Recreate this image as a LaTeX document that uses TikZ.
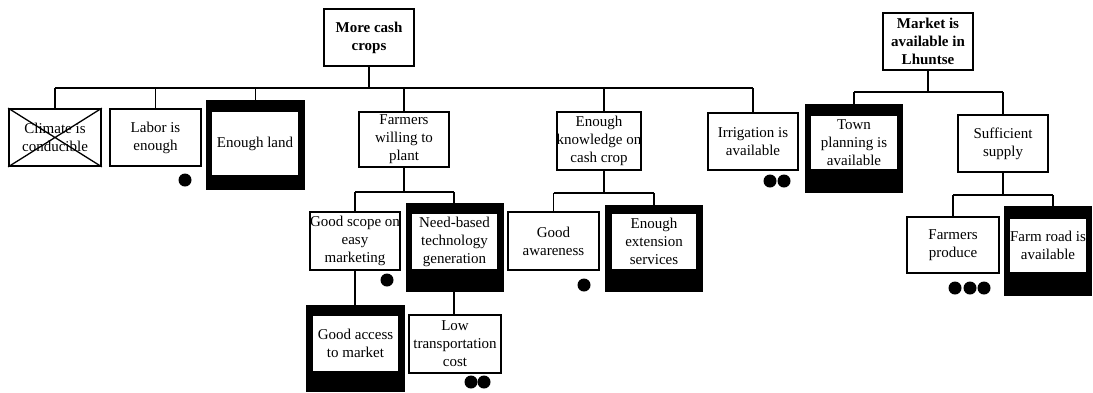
\documentclass[tikz,border=0pt]{standalone}
\usepackage{fontspec}
\setmainfont{Liberation Serif}
\begin{document}
\begin{tikzpicture}[x=1pt,y=-1pt,
  box/.style={draw=black, line width=1.7pt, fill=white, align=center, inner sep=0pt,
              font=\fontsize{15}{18}\selectfont},
  rootbox/.style={box, font=\fontsize{15}{18}\selectfont\bfseries},
  shade/.style={fill=black, draw=none, inner sep=0pt},
  badge/.style={circle, fill=black, inner sep=0pt, minimum size=13pt},
  link/.style={line width=1.7pt}]
\useasboundingbox (0,0) rectangle (1093,392);

% ---------- first tree: more cash crops ----------
\node[rootbox, minimum width=90pt, minimum height=57pt] (root1) at (369,37.5) {More cash\\crops};

\node[box, minimum width=92pt, minimum height=57pt] (climate) at (55,137.5) {Climate is\\conducible};
\draw[line width=1.3pt] (climate.north west) -- (climate.south east)
                        (climate.north east) -- (climate.south west);

\node[box, minimum width=91pt, minimum height=57pt] (labor) at (155.5,137.5) {Labor is\\enough};

\node[shade, minimum width=99pt, minimum height=90pt] (landbg) at (255.5,145) {};
\node[box, minimum width=88pt, minimum height=65pt] (land) at (255,143.5) {Enough land};

\node[box, minimum width=90pt, minimum height=55pt] (farmers) at (404,139.5) {Farmers\\willing to\\plant};

\node[box, minimum width=80pt, minimum height=58pt] (knowledge) at (599,141) {Enough\\knowledge on\\cash crop};

\node[box, minimum width=90pt, minimum height=57pt] (irrig) at (753,141.5) {Irrigation is\\available};

% second level under "Farmers willing to plant"
\node[box, minimum width=90pt, minimum height=58pt] (scope) at (355,241) {Good scope on\\easy\\marketing};

\node[shade, minimum width=98pt, minimum height=89pt] (needbg) at (455,247.5) {};
\node[box, minimum width=87pt, minimum height=57pt] (need) at (454.5,241.5) {Need-based\\technology\\generation};

% third level
\node[shade, minimum width=99pt, minimum height=87pt] (accessbg) at (355.5,348.5) {};
\node[box, minimum width=87pt, minimum height=57pt] (access) at (355.5,343.5) {Good access\\to market};

\node[box, minimum width=92pt, minimum height=58pt] (lowcost) at (455,344) {Low\\transportation\\cost};

% second level under "Enough knowledge on cash crop"
\node[box, minimum width=91pt, minimum height=58pt] (aware) at (553.5,241) {Good\\awareness};

\node[shade, minimum width=98pt, minimum height=87pt] (extbg) at (654,248.5) {};
\node[box, minimum width=86pt, minimum height=57pt] (ext) at (654,241.5) {Enough\\extension\\services};

% ---------- second tree: market in Lhuntse ----------
\node[rootbox, minimum width=90pt, minimum height=57pt] (root2) at (928,41.5) {Market is\\available in\\Lhuntse};

\node[shade, minimum width=98pt, minimum height=89pt] (townbg) at (854,148.5) {};
\node[box, minimum width=88pt, minimum height=55pt] (town) at (854,142.5) {Town\\planning is\\available};

\node[box, minimum width=90pt, minimum height=57pt] (supply) at (1003,143.5) {Sufficient\\supply};

\node[box, minimum width=92pt, minimum height=56pt] (produce) at (953,245) {Farmers\\produce};

\node[shade, minimum width=88pt, minimum height=90pt] (roadbg) at (1048,251) {};
\node[box, minimum width=78pt, minimum height=55pt] (road) at (1048,245.5) {Farm road is\\available};

% ---------- connectors ----------
\coordinate (bus1) at (369,88);
\draw[link] (root1.south) -- (bus1);
\draw[link] (climate.north |- bus1) -- (irrig.north |- bus1);
\foreach \n in {climate,labor,landbg,farmers,irrig}
  \draw[link] (\n.north) -- (\n.north |- bus1);
\draw[link] ([xshift=5pt]knowledge.north) -- ([xshift=5pt]knowledge.north |- bus1);

\coordinate (bus2) at (404,192);
\draw[link] (farmers.south) -- (bus2);
\draw[link] (scope.north |- bus2) -- ([xshift=-1pt]needbg.north |- bus2);
\draw[link] (scope.north) -- (scope.north |- bus2);
\draw[link] ([xshift=-1pt]needbg.north) -- ([xshift=-1pt]needbg.north |- bus2);
\draw[link] (scope.south) -- (scope.south |- accessbg.north);
\draw[link] ([xshift=-1pt]needbg.south) -- ([xshift=-1pt]needbg.south |- lowcost.north);

\coordinate (bus3) at (604,193);
\draw[link] ([xshift=5pt]knowledge.south) -- (bus3);
\draw[link] (aware.north |- bus3) -- (extbg.north |- bus3);
\draw[link] (aware.north) -- (aware.north |- bus3);
\draw[link] (extbg.north) -- (extbg.north |- bus3);

\coordinate (bus4) at (928,92);
\draw[link] (root2.south) -- (bus4);
\draw[link] (townbg.north |- bus4) -- (supply.north |- bus4);
\draw[link] (townbg.north) -- (townbg.north |- bus4);
\draw[link] (supply.north) -- (supply.north |- bus4);

\coordinate (bus5) at (1003,195);
\draw[link] (supply.south) -- (bus5);
\coordinate (roadtop) at (1053,206);
\draw[link] (produce.north |- bus5) -- (roadtop |- bus5);
\draw[link] (produce.north) -- (produce.north |- bus5);
\draw[link] (roadtop) -- (roadtop |- bus5);

% ---------- numbered badges ----------
\node[badge] (bl) at (185,180) {};
\node[badge] (bs) at (387,280) {};
\node[badge] (bc1) at (471,382) {};
\node[badge] (bc2) at (484,382) {};
\node[badge] (ba) at (584,285) {};
\node[badge] (bi1) at (770,181) {};
\node[badge] (bi2) at (784,181) {};
\node[badge] (bp1) at (955,288) {};
\node[badge] (bp2) at (970,288) {};
\node[badge] (bp3) at (984,288) {};
\end{tikzpicture}
\end{document}
